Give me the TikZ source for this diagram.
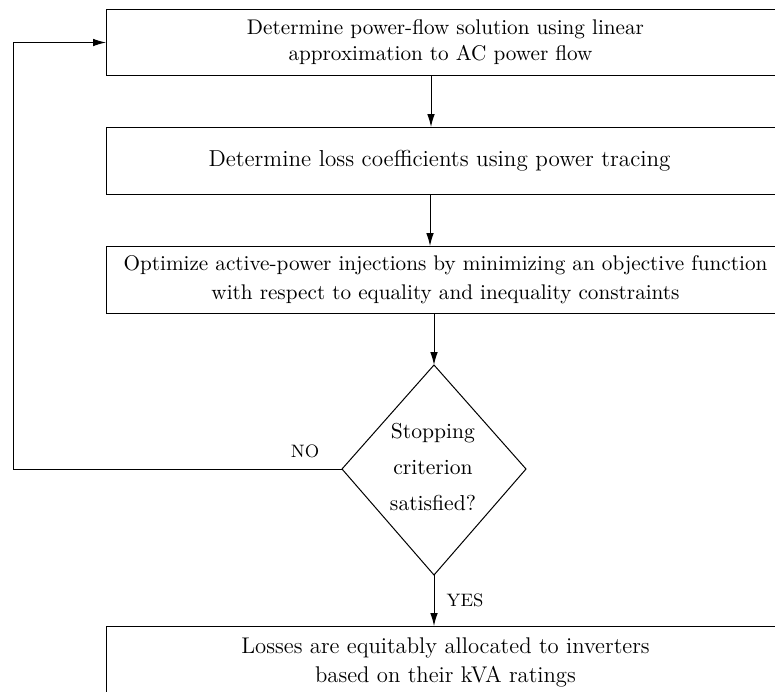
\documentclass[tikz,border=0pt]{standalone}
\usetikzlibrary{arrows.meta}
\begin{document}
\begin{tikzpicture}[x=0.5pt,y=-0.5pt,
  every node/.style={font=\fontsize{10.8pt}{14pt}\selectfont},
  box/.style={draw, line width=0.5pt, rectangle, anchor=north west, minimum width=339pt, inner sep=0pt, align=center},
  fsmall/.style={font=\fontsize{10.6pt}{13.5pt}\selectfont},
  flarge/.style={font=\fontsize{11.35pt}{14.5pt}\selectfont},
  conn/.style={line width=0.5pt, -{Latex[length=6.5pt,width=3.8pt]}},
  lbl/.style={font=\fontsize{9pt}{11pt}\selectfont, inner sep=0pt}]
\useasboundingbox (0,0) rectangle (775,691);
\clip (0,0) rectangle (775,691);
\node[box, fsmall, minimum height=33pt] (b1) at (106,9)
  {Determine power-flow solution using linear\\[-0.5pt] approximation to AC power flow\hspace*{5pt}};
\node[box, font=\fontsize{11.55pt}{14.5pt}\selectfont, minimum height=33.5pt] (b2) at (106,127)
  {Determine loss coefficients using power tracing\hspace*{6pt}};
\node[box, fsmall, minimum height=33.5pt] (b3) at (106,246)
  {Optimize active-power injections by minimizing an objective function\\[1pt] with respect to equality and inequality constraints};
\node[box, flarge, minimum height=35.5pt] (b4) at (106,626)
  {Losses are equitably allocated to inverters\\[0pt] based on their kVA ratings};
% decision diamond
\coordinate (dT) at (434,365);
\coordinate (dL) at (342,469);
\coordinate (dR) at (526,469);
\coordinate (dB) at (434,575);
\draw[line width=0.5pt] (dT) -- (dR) -- (dB) -- (dL) -- cycle;
\node[align=center, inner sep=0pt] (dtext) at (433,467)
  {Stopping\\[4pt] criterion\\[4pt] satisfied?};
% connectors
\draw[conn] (b1.south -| 431,0) -- (b2.north -| 431,0);
\draw[conn] (b2.south -| 430,0) -- (b3.north -| 430,0);
\draw[conn] (b3.south -| dT) -- (dT);
\draw[conn] (dB) -- (b4.north -| dB);
\coordinate (loop) at (13,469);
\draw[conn] (dL) -- (loop) |- (b1.west);
\node[lbl] (no) at (305,451) {NO};
\node[lbl] (yes) at (465,600) {YES};
\end{tikzpicture}
\end{document}
